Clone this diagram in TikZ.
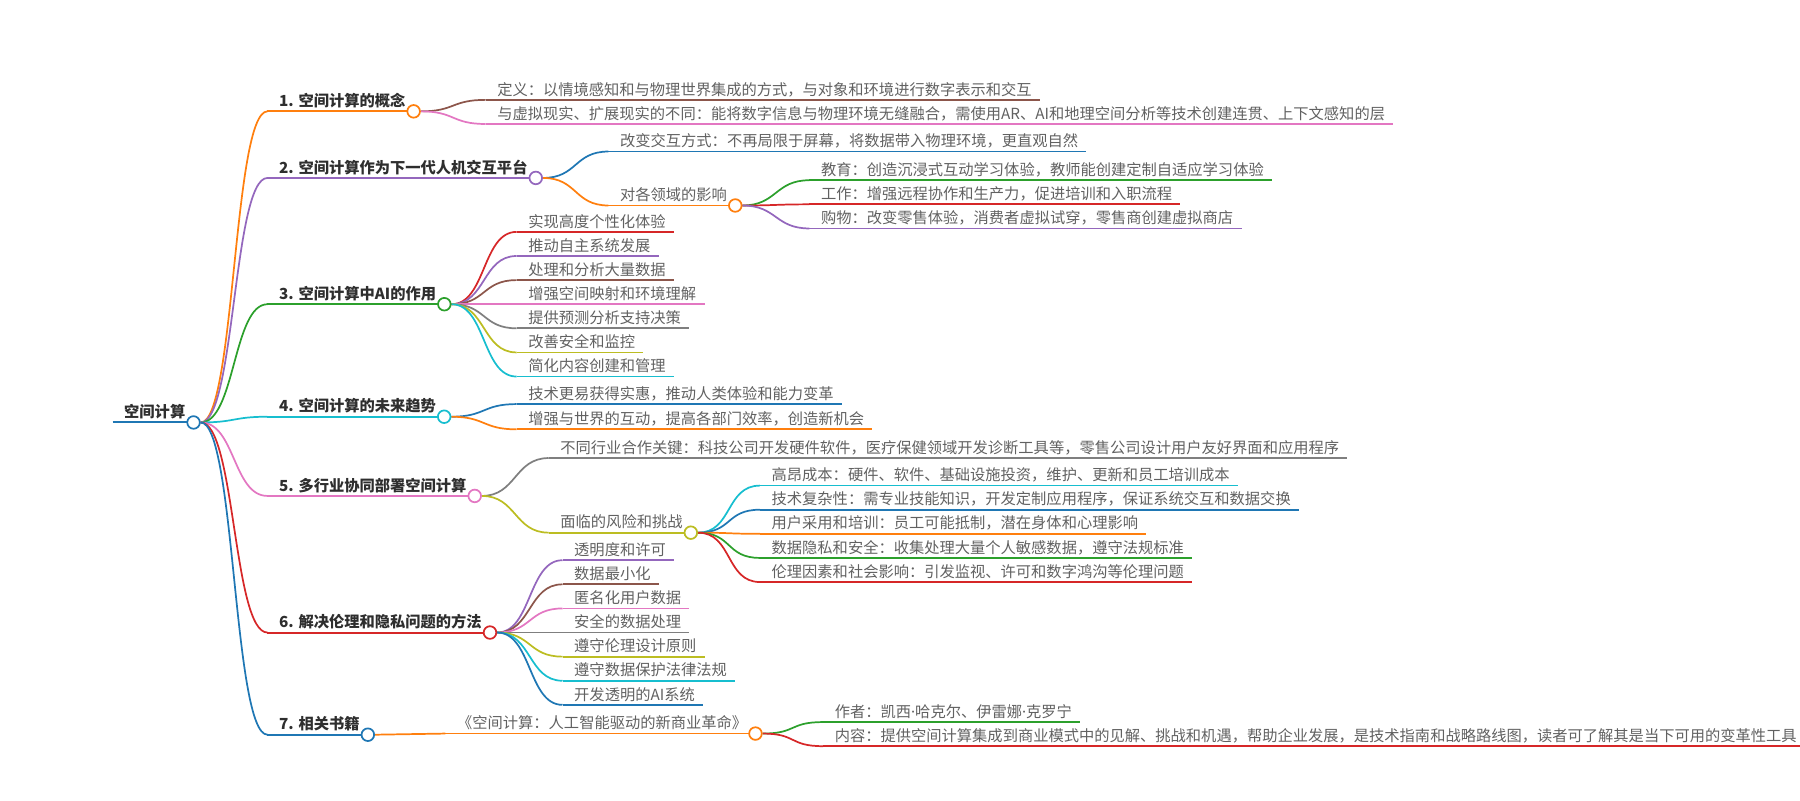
\documentclass[tikz,border=0pt]{standalone}
\usepackage{fontspec}
\setmainfont{Noto Sans CJK SC}
\newfontfamily\latinfont{Noto Sans}
\usetikzlibrary{backgrounds}
\definecolor{cblue}{HTML}{1F77B4}
\definecolor{corange}{HTML}{FF7F0E}
\definecolor{cgreen}{HTML}{2CA02C}
\definecolor{cred}{HTML}{D62728}
\definecolor{cpurple}{HTML}{9467BD}
\definecolor{cbrown}{HTML}{8C564B}
\definecolor{cpink}{HTML}{E377C2}
\definecolor{cgray}{HTML}{7F7F7F}
\definecolor{colive}{HTML}{BCBD22}
\definecolor{ccyan}{HTML}{17BECF}
\begin{document}
\begin{tikzpicture}[x=1pt,y=-1pt,
    every node/.style={font=\fontsize{13.3}{16}\selectfont, inner xsep=7pt, inner ysep=4pt,
        text depth=0pt, anchor=south west, execute at begin node=\hspace*{3pt}},
    topic/.style={text=black!82, font=\fontsize{13.3}{16}\selectfont\bfseries,
        append after command={(\tikzlastnode.south west) edge[draw=#1, line width=1.8pt] (\tikzlastnode.south east)}},
    leaf/.style={text=black!62,
        append after command={(\tikzlastnode.south west) edge[draw=#1, line width=1.5pt] (\tikzlastnode.south east)}},
    dot/.style={circle, draw=#1, fill=white, line width=1.5pt, minimum size=11pt, inner sep=0pt,
        anchor=center, execute at begin node={}},
    link/.style={draw=#1, line width=1.5pt, to path={.. controls +(30,0) and +(-30,0) .. (\tikztotarget)}},
]
    \useasboundingbox (0,0) rectangle (1568,697);

    % root and main topics
    \node[topic=cblue] (root) at (98,368) {空间计算};
    \node[topic=corange] (b1) at (233,97) {1. 空间计算的概念};
    \node[topic=cpurple] (b2) at (233,155) {2. 空间计算作为下一代人机交互平台};
    \node[topic=cgreen] (b3) at (233,265) {3. 空间计算中AI的作用};
    \node[topic=ccyan] (b4) at (233,363) {4. 空间计算的未来趋势};
    \node[topic=cpink] (b5) at (233,432) {5. 多行业协同部署空间计算};
    \node[topic=cred] (b6) at (233,551) {6. 解决伦理和隐私问题的方法};
    \node[topic=cblue] (b7) at (233,640) {7. 相关书籍};

    % 1
    \node[leaf=cbrown] (l11) at (423,87) {定义：以情境感知和与物理世界集成的方式，与对象和环境进行数字表示和交互};
    \node[leaf=cpink] (l12) at (423,108) {与虚拟现实、扩展现实的不同：能将数字信息与物理环境无缝融合，需使用AR、AI和地理空间分析等技术创建连贯、上下文感知的层};

    % 2
    \node[leaf=cblue] (l21) at (530,132) {改变交互方式：不再局限于屏幕，将数据带入物理环境，更直观自然};
    \node[leaf=corange] (l22) at (530,179) {对各领域的影响};
    \node[leaf=cgreen] (l221) at (705,157) {教育：创造沉浸式互动学习体验，教师能创建定制自适应学习体验};
    \node[leaf=cred] (l222) at (705,178) {工作：增强远程协作和生产力，促进培训和入职流程};
    \node[leaf=cpurple] (l223) at (705,199) {购物：改变零售体验，消费者虚拟试穿，零售商创建虚拟商店};

    % 3
    \foreach \t/\c [count=\i] in {实现高度个性化体验/cred, 推动自主系统发展/cpurple, 处理和分析大量数据/cbrown,
        增强空间映射和环境理解/cpink, 提供预测分析支持决策/cgray, 改善安全和监控/colive, 简化内容创建和管理/ccyan}
        \node[leaf=\c] (l3\i) at (450,181+21*\i) {\t};

    % 4
    \node[leaf=cblue] (l41) at (450,352) {技术更易获得实惠，推动人类体验和能力变革};
    \node[leaf=corange] (l42) at (450,374) {增强与世界的互动，提高各部门效率，创造新机会};

    % 5
    \node[leaf=cgray] (l51) at (478,399) {不同行业合作关键：科技公司开发硬件软件，医疗保健领域开发诊断工具等，零售公司设计用户友好界面和应用程序};
    \node[leaf=colive] (l52) at (478,464) {面临的风险和挑战};
    \foreach \t/\c [count=\i] in {高昂成本：硬件、软件、基础设施投资，维护、更新和员工培训成本/ccyan,
        技术复杂性：需专业技能知识，开发定制应用程序，保证系统交互和数据交换/cblue,
        用户采用和培训：员工可能抵制，潜在身体和心理影响/corange,
        数据隐私和安全：收集处理大量个人敏感数据，遵守法规标准/cgreen,
        伦理因素和社会影响：引发监视、许可和数字鸿沟等伦理问题/cred}
        \node[leaf=\c] (l52\i) at (662,402+21*\i) {\t};

    % 6
    \foreach \t/\c [count=\i] in {透明度和许可/cpurple, 数据最小化/cbrown, 匿名化用户数据/cpink, 安全的数据处理/cgray,
        遵守伦理设计原则/colive, 遵守数据保护法律法规/ccyan, 开发透明的AI系统/cblue}
        \node[leaf=\c] (l6\i) at (490,467+21*\i) {\t};

    % 7
    \node[leaf=corange] (l71) at (388,639) {《空间计算：人工智能驱动的新商业革命》};
    \node[leaf=cgreen] (l711) at (717,629) {作者：凯西{\latinfont ·}哈克尔、伊雷娜{\latinfont ·}克罗宁};
    \node[leaf=cred] (l712) at (717,650) {内容：提供空间计算集成到商业模式中的见解、挑战和机遇，帮助企业发展，是技术指南和战略路线图，读者可了解其是当下可用的变革性工具};

    % circles
    \foreach \n/\c in {root/cblue, b1/corange, b2/cpurple, b3/cgreen, b4/ccyan, b5/cpink, b6/cred, b7/cblue,
        l22/corange, l52/colive, l71/corange}
        \node[dot=\c] (\n-c) at (\n.south east) {};

    % links
    \begin{scope}[on background layer]
        \foreach \n/\c in {b1/corange, b2/cpurple, b3/cgreen, b4/ccyan, b5/cpink, b6/cred, b7/cblue}
            \draw[link=\c] (root-c.east) to (\n.south west);
        \draw[link=cbrown] (b1-c.east) to (l11.south west);
        \draw[link=cpink] (b1-c.east) to (l12.south west);
        \draw[link=cblue] (b2-c.east) to (l21.south west);
        \draw[link=corange] (b2-c.east) to (l22.south west);
        \draw[link=cgreen] (l22-c.east) to (l221.south west);
        \draw[link=cred] (l22-c.east) to (l222.south west);
        \draw[link=cpurple] (l22-c.east) to (l223.south west);
        \foreach \c [count=\i] in {cred, cpurple, cbrown, cpink, cgray, colive, ccyan}
            \draw[link=\c] (b3-c.east) to (l3\i.south west);
        \draw[link=cblue] (b4-c.east) to (l41.south west);
        \draw[link=corange] (b4-c.east) to (l42.south west);
        \draw[link=cgray] (b5-c.east) to (l51.south west);
        \draw[link=colive] (b5-c.east) to (l52.south west);
        \foreach \c [count=\i] in {ccyan, cblue, corange, cgreen, cred}
            \draw[link=\c] (l52-c.east) to (l52\i.south west);
        \foreach \c [count=\i] in {cpurple, cbrown, cpink, cgray, colive, ccyan, cblue}
            \draw[link=\c] (b6-c.east) to (l6\i.south west);
        \draw[link=corange] (b7-c.east) to (l71.south west);
        \draw[link=cgreen] (l71-c.east) to (l711.south west);
        \draw[link=cred] (l71-c.east) to (l712.south west);
    \end{scope}
\end{tikzpicture}
\end{document}
